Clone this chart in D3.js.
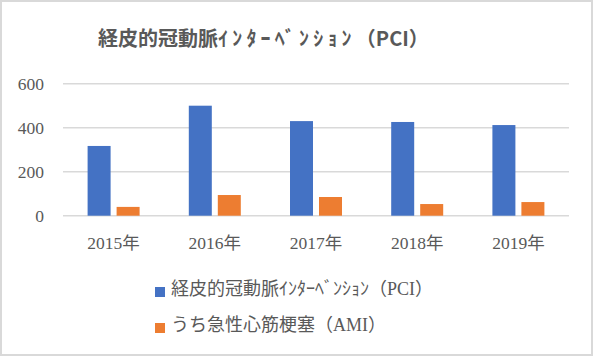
<!DOCTYPE html>
<html><head><meta charset="utf-8">
<script src="https://cdn.jsdelivr.net/npm/d3@7"></script>
<style>body{margin:0;background:#fff}svg{display:block}</style>
</head><body>
<svg id="c" width="593" height="356"></svg>
<script>
const categories = ["2015年","2016年","2017年","2018年","2019年"];
const seriesNames = ["経皮的冠動脈ｲﾝﾀｰﾍﾞﾝｼｮﾝ（PCI）","うち急性心筋梗塞（AMI）"];
const pciValues = [317, 500, 430, 426, 412];
const amiValues = [40, 94, 85, 53, 62];
const yTicks = [0, 200, 400, 600];
const colors = ["#4472C4", "#ED7D31"];

(function(){
const svg = d3.select("#c");
const serif = "'Liberation Serif','Noto Sans CJK JP',serif";
const textColor = "#595959";

svg.append("rect").attr("x",1).attr("y",1).attr("width",591).attr("height",354)
  .attr("fill","#fff").attr("stroke","#d9d9d9").attr("stroke-width",2);

const pLeft = 63, pRight = 569, pTop = 83.7, pBottom = 215.7;
const x = d3.scaleBand().domain(categories).range([pLeft, pRight]);
const y = d3.scaleLinear().domain([0, 600]).range([pBottom, pTop]);

// gridlines
svg.append("g").selectAll("line").data(yTicks).join("line")
  .attr("x1", pLeft).attr("x2", pRight)
  .attr("y1", d => y(d)).attr("y2", d => y(d))
  .attr("stroke", "#d9d9d9").attr("stroke-width", 1.5);

// y axis labels
const yAxis = d3.axisLeft(y).tickValues(yTicks).tickSize(0).tickPadding(0);
const gy = svg.append("g").attr("transform", `translate(44,0)`).call(yAxis);
gy.select(".domain").remove();
gy.selectAll("text").attr("font-family", serif).attr("font-size", 17.5)
  .attr("fill", textColor);

// x axis labels
const xAxis = d3.axisBottom(x).tickSize(0).tickPadding(0);
const gx = svg.append("g").attr("transform", `translate(0,${pBottom})`).call(xAxis);
gx.select(".domain").remove();
gx.selectAll("text").attr("font-family", serif).attr("font-size", 17.5)
  .attr("fill", textColor).attr("dy", null).attr("y", 33);

// bars
const barW = 23, gap = 6;
const data = categories.map((c, i) => ({c, v: [pciValues[i], amiValues[i]]}));
const g = svg.append("g");
[0, 1].forEach(s => {
  g.selectAll(".b" + s).data(data).join("rect")
    .attr("class", "b" + s)
    .attr("x", d => x(d.c) + x.bandwidth() / 2 - barW - gap / 2 + s * (barW + gap))
    .attr("width", barW)
    .attr("y", d => y(d.v[s]))
    .attr("height", d => y(0) - y(d.v[s]))
    .attr("fill", colors[s]);
});

// title
const title = svg.append("text").attr("x", 98).attr("y", 46)
  .attr("font-family", "'Noto Sans CJK JP',sans-serif").attr("font-size", 20)
  .attr("font-weight", "bold").attr("fill", textColor);
title.append("tspan").text("経皮的冠動脈");
title.append("tspan").attr("letter-spacing", 4.2).text("ｲﾝﾀｰﾍﾞﾝｼｮﾝ");
title.append("tspan").text("（PCI）");

// legend
const lg = svg.append("g");
seriesNames.forEach((n, i) => {
  const cy = 291 + i * 36;
  lg.append("rect").attr("x", 155).attr("y", cy - 4).attr("width", 10).attr("height", 10)
    .attr("fill", colors[i]);
  lg.append("text").attr("x", 171).attr("y", cy).attr("dominant-baseline", "middle")
    .attr("font-family", serif).attr("font-size", 18).attr("fill", textColor).text(n);
});
})();
</script>
</body></html>
